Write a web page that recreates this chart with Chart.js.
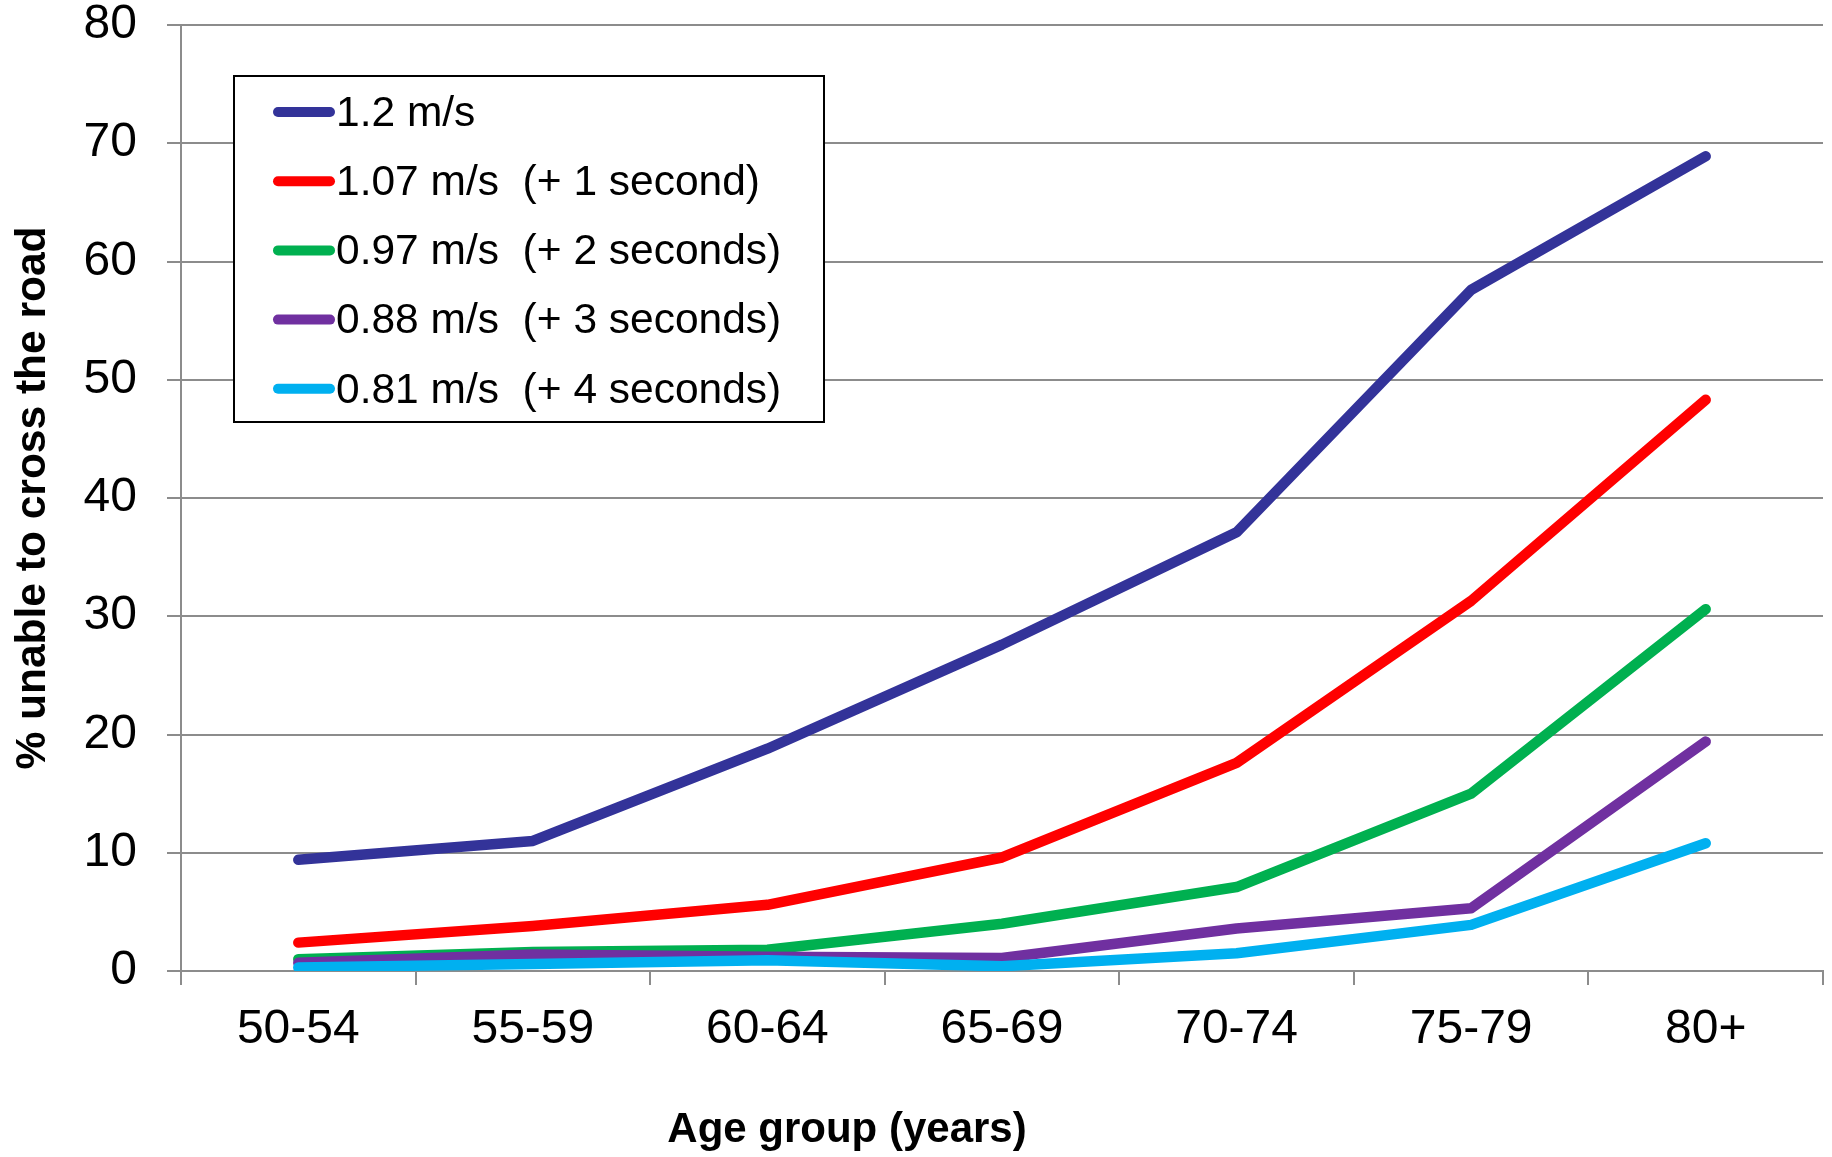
<!DOCTYPE html>
<html>
<head>
<meta charset="utf-8">
<script src="https://cdn.jsdelivr.net/npm/chart.js@4.4.1/dist/chart.umd.min.js"></script>
<style>
    html, body { margin: 0; padding: 0; background: #fff; }
    #chart-box { width: 1832px; height: 1157px; position: relative; }
</style>
</head>
<body>
<div id="chart-box"><canvas id="crossing-chart"></canvas></div>
<script>
const age_groups = ['50-54', '55-59', '60-64', '65-69', '70-74', '75-79', '80+'];
const y_ticks = [0, 10, 20, 30, 40, 50, 60, 70, 80];

const speed_labels = [
    '1.2 m/s',
    '1.07 m/s  (+ 1 second)',
    '0.97 m/s  (+ 2 seconds)',
    '0.88 m/s  (+ 3 seconds)',
    '0.81 m/s  (+ 4 seconds)',
];
const speed_1_20 = [9.4, 11.0, 18.8, 27.6, 37.1, 57.6, 68.9];
const speed_1_07 = [2.4, 3.8, 5.6, 9.6, 17.6, 31.3, 48.3];
const speed_0_97 = [1.0, 1.6, 1.8, 4.0, 7.1, 15.0, 30.6];
const speed_0_88 = [0.7, 1.4, 1.2, 1.1, 3.6, 5.3, 19.4];
const speed_0_81 = [0.3, 0.6, 0.9, 0.4, 1.5, 3.9, 10.8];

const x_title = 'Age group (years)';
const y_title = '% unable to cross the road';

const series_colors = ['#333399', '#ff0000', '#00b050', '#7030a0', '#00b0f0'];
const grid_grey = '#8c8c8c';
const font_family = '"Liberation Sans", Arial, sans-serif';

// legend drawn as a framed box inside the plot, top left
const boxed_legend = {
    id: 'boxed_legend',
    afterDatasetsDraw(chart) {
        const ctx = chart.ctx;
        const box = { x: 234, y: 76, w: 590, h: 346 };
        ctx.save();
        ctx.fillStyle = '#fff';
        ctx.fillRect(box.x, box.y, box.w, box.h);
        ctx.lineWidth = 2;
        ctx.strokeStyle = '#000';
        ctx.strokeRect(box.x, box.y, box.w, box.h);

        ctx.font = '42.5px ' + font_family;
        ctx.textBaseline = 'middle';
        ctx.textAlign = 'left';
        chart.data.datasets.forEach((ds, i) => {
            const cy = box.y + 36 + i * 69.2;
            ctx.beginPath();
            ctx.lineCap = 'round';
            ctx.lineWidth = 10;
            ctx.strokeStyle = ds.borderColor;
            ctx.moveTo(278, cy);
            ctx.lineTo(330, cy);
            ctx.stroke();
            ctx.fillStyle = '#000';
            ctx.fillText(ds.label, 336, cy + 2);
        });
        ctx.restore();
    }
};

// x axis title sits left of the plot centre in the original
const x_axis_title = {
    id: 'x_axis_title',
    afterDraw(chart) {
        const ctx = chart.ctx;
        const area = chart.chartArea;
        ctx.save();
        ctx.font = 'bold 42px ' + font_family;
        ctx.fillStyle = '#000';
        ctx.textAlign = 'center';
        ctx.textBaseline = 'middle';
        ctx.fillText(x_title, area.left + (area.right - area.left) * 0.4056, 1130);
        ctx.restore();
    }
};

function make_dataset(label, values, color, order) {
    return {
        label: label,
        data: values,
        borderColor: color,
        backgroundColor: color,
        borderWidth: 10.5,
        borderCapStyle: 'round',
        borderJoinStyle: 'round',
        pointRadius: 0,
        tension: 0,
        fill: false,
        order: order,
    };
}

const series_values = [speed_1_20, speed_1_07, speed_0_97, speed_0_88, speed_0_81];

new Chart(document.getElementById('crossing-chart'), {
    type: 'line',
    data: {
        labels: age_groups,
        // later series drawn on top, as in the original
        datasets: series_values.map((v, i) => make_dataset(speed_labels[i], v, series_colors[i], series_values.length - i)),
    },
    options: {
        responsive: true,
        maintainAspectRatio: false,
        devicePixelRatio: 1,
        animation: false,
        layout: {
            autoPadding: false,
            padding: { top: 25, right: 9, left: 0, bottom: 0 },
        },
        plugins: {
            legend: { display: false },
            tooltip: { enabled: false },
        },
        scales: {
            x: {
                offset: true,
                afterFit: (scale) => {
                    scale.height = 186;
                    scale.paddingLeft = 0;
                    scale.paddingRight = 0;
                },
                grid: {
                    offset: true,
                    drawOnChartArea: false,
                    drawTicks: true,
                    tickLength: 14,
                    color: grid_grey,
                    lineWidth: 2,
                },
                border: { display: true, color: grid_grey, width: 2 },
                ticks: {
                    color: '#000',
                    padding: 16,
                    maxRotation: 0,
                    font: { family: font_family, size: 48 },
                },
            },
            y: {
                min: 0,
                max: 80,
                afterFit: (scale) => {
                    scale.width = 181;
                    scale.paddingTop = 0;
                    scale.paddingBottom = 0;
                },
                afterBuildTicks: (scale) => { scale.ticks = y_ticks.map(v => ({ value: v })); },
                grid: {
                    drawTicks: true,
                    tickLength: 14,
                    color: grid_grey,
                    lineWidth: 2,
                },
                border: { display: true, color: grid_grey, width: 2 },
                ticks: {
                    color: '#000',
                    padding: 30,
                    font: { family: font_family, size: 48 },
                },
                title: {
                    display: true,
                    text: y_title,
                    color: '#000',
                    padding: { top: 8, bottom: 0 },
                    font: { family: font_family, size: 42.5, weight: 'bold' },
                },
            },
        },
    },
    plugins: [boxed_legend, x_axis_title],
});
</script>
</body>
</html>
